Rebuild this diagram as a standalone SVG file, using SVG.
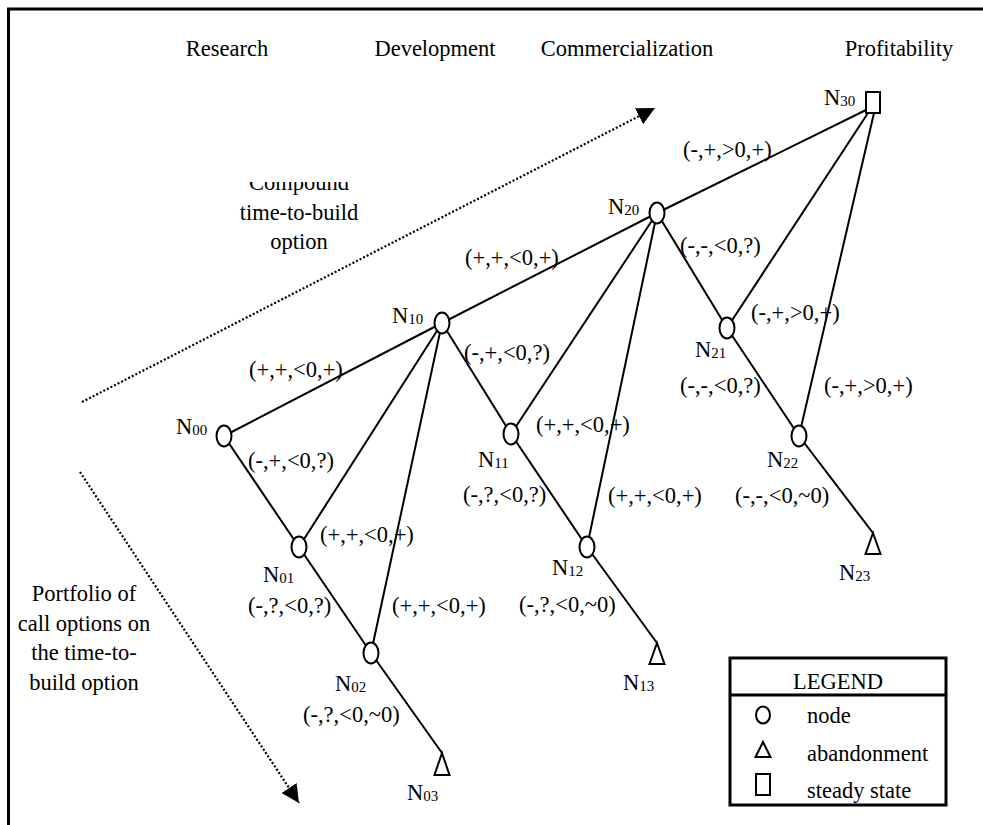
<svg xmlns="http://www.w3.org/2000/svg" width="983" height="825" viewBox="0 0 983 825">
<defs>
<style>
text{font-family:"Liberation Serif","Times New Roman",serif;font-size:22.5px;fill:#000}
.sub{font-size:15px}
.c{text-anchor:middle}
.edge{stroke:#000;stroke-width:2;fill:none}
.nd{stroke:#000;stroke-width:2;fill:#fff}
.dot{stroke:#000;stroke-width:2.2;fill:none;stroke-dasharray:2 2}
.frame{stroke:#000;stroke-width:3;fill:none}
</style>
<marker id="ah" viewBox="0 0 10 10" refX="10" refY="5" markerWidth="18" markerHeight="18" markerUnits="userSpaceOnUse" orient="auto">
<path d="M0,0 L10,5 L0,10 Z" fill="#000"/>
</marker>
<clipPath id="clipC"><rect x="200" y="182" width="200" height="80"/></clipPath>
</defs>
<rect width="983" height="825" fill="#fff"/>
<path class="frame" d="M8.5,825 V9 H983"/>

<g id="headers">
<text class="c" x="227" y="56">Research</text>
<text class="c" x="435" y="56">Development</text>
<text class="c" x="627" y="56">Commercialization</text>
<text class="c" x="899" y="56">Profitability</text>
</g>

<g id="side-labels">
<g clip-path="url(#clipC)">
<text class="c" x="299" y="190">Compound</text>
</g>
<text class="c" x="299" y="220">time-to-build</text>
<text class="c" x="299" y="249">option</text>
<text class="c" x="84" y="601">Portfolio of</text>
<text class="c" x="84" y="631">call options on</text>
<text class="c" x="84" y="660">the time-to-</text>
<text class="c" x="84" y="690">build option</text>
</g>

<g id="connectors">
<line class="dot" x1="82" y1="402" x2="655" y2="108" marker-end="url(#ah)"/>
<line class="dot" x1="80" y1="472" x2="299" y2="803" marker-end="url(#ah)"/>
<line class="edge" x1="224" y1="436" x2="442" y2="323"/>
<line class="edge" x1="442" y1="323" x2="657" y2="213"/>
<line class="edge" x1="657" y1="213" x2="866" y2="110"/>
<line class="edge" x1="224" y1="436" x2="299" y2="547"/>
<line class="edge" x1="299" y1="547" x2="371" y2="653"/>
<line class="edge" x1="371" y1="653" x2="442" y2="753"/>
<line class="edge" x1="442" y1="323" x2="511" y2="434"/>
<line class="edge" x1="511" y1="434" x2="587" y2="547"/>
<line class="edge" x1="587" y1="547" x2="657" y2="643"/>
<line class="edge" x1="657" y1="213" x2="727" y2="328"/>
<line class="edge" x1="727" y1="328" x2="799" y2="436"/>
<line class="edge" x1="799" y1="436" x2="873" y2="533"/>
<line class="edge" x1="299" y1="547" x2="442" y2="323"/>
<line class="edge" x1="371" y1="653" x2="442" y2="323"/>
<line class="edge" x1="511" y1="434" x2="657" y2="213"/>
<line class="edge" x1="587" y1="547" x2="657" y2="213"/>
<line class="edge" x1="727" y1="328" x2="868" y2="113"/>
<line class="edge" x1="799" y1="436" x2="874" y2="113"/>
</g>

<g id="edge-labels">
<text x="249" y="377">(+,+,&lt;0,+)</text>
<text x="248" y="468">(-,+,&lt;0,?)</text>
<text x="320" y="542">(+,+,&lt;0,+)</text>
<text x="248" y="613">(-,?,&lt;0,?)</text>
<text x="392" y="613">(+,+,&lt;0,+)</text>
<text x="303" y="722">(-,?,&lt;0,~0)</text>
<text x="465" y="265">(+,+,&lt;0,+)</text>
<text x="464" y="360">(-,+,&lt;0,?)</text>
<text x="536" y="432">(+,+,&lt;0,+)</text>
<text x="463" y="502">(-,?,&lt;0,?)</text>
<text x="608" y="503">(+,+,&lt;0,+)</text>
<text x="519" y="612">(-,?,&lt;0,~0)</text>
<text x="683" y="157">(-,+,&gt;0,+)</text>
<text x="680" y="253">(-,-,&lt;0,?)</text>
<text x="751" y="320">(-,+,&gt;0,+)</text>
<text x="680" y="393">(-,-,&lt;0,?)</text>
<text x="824" y="393">(-,+,&gt;0,+)</text>
<text x="735" y="503">(-,-,&lt;0,~0)</text>
</g>

<g id="N00"><ellipse class="nd" cx="224" cy="436" rx="7.5" ry="10.5"/><text x="176" y="434">N<tspan class="sub" dy="1">00</tspan></text></g>
<g id="N10"><ellipse class="nd" cx="442" cy="323" rx="7.5" ry="10.5"/><text x="392" y="323">N<tspan class="sub" dy="1">10</tspan></text></g>
<g id="N20"><ellipse class="nd" cx="657" cy="213" rx="7.5" ry="10.5"/><text x="608" y="214">N<tspan class="sub" dy="1">20</tspan></text></g>
<g id="N30"><rect class="nd" x="866" y="92" width="14" height="21"/><text x="824" y="105">N<tspan class="sub" dy="1">30</tspan></text></g>
<g id="N01"><ellipse class="nd" cx="299" cy="547" rx="7.5" ry="10.5"/><text x="263" y="582">N<tspan class="sub" dy="1">01</tspan></text></g>
<g id="N11"><ellipse class="nd" cx="511" cy="434" rx="7.5" ry="10.5"/><text x="478" y="467">N<tspan class="sub" dy="1">11</tspan></text></g>
<g id="N21"><ellipse class="nd" cx="727" cy="328" rx="7.5" ry="10.5"/><text x="695" y="357">N<tspan class="sub" dy="1">21</tspan></text></g>
<g id="N02"><ellipse class="nd" cx="371" cy="653" rx="7.5" ry="10.5"/><text x="335" y="691">N<tspan class="sub" dy="1">02</tspan></text></g>
<g id="N12"><ellipse class="nd" cx="587" cy="547" rx="7.5" ry="10.5"/><text x="552" y="575">N<tspan class="sub" dy="1">12</tspan></text></g>
<g id="N22"><ellipse class="nd" cx="799" cy="436" rx="7.5" ry="10.5"/><text x="767" y="467">N<tspan class="sub" dy="1">22</tspan></text></g>
<g id="N03"><polygon class="nd" points="442,753 449.5,775 434.5,775"/><text x="407" y="800">N<tspan class="sub" dy="1">03</tspan></text></g>
<g id="N13"><polygon class="nd" points="657,643 664.5,664 649.5,664"/><text x="623" y="690">N<tspan class="sub" dy="1">13</tspan></text></g>
<g id="N23"><polygon class="nd" points="873,533 880.5,554 865.5,554"/><text x="839" y="580">N<tspan class="sub" dy="1">23</tspan></text></g>

<g id="legend">
<rect x="730" y="658" width="216" height="147" fill="#fff" stroke="#000" stroke-width="3"/>
<line x1="730" y1="695" x2="946" y2="695" stroke="#000" stroke-width="3"/>
<text class="c" x="838" y="689">LEGEND</text>
<ellipse class="nd" cx="763" cy="715" rx="7" ry="8.5" stroke-width="1.5"/>
<polygon class="nd" points="763,742 770.5,757 755.5,757" stroke-width="1.5"/>
<rect class="nd" x="756" y="774" width="14" height="21" stroke-width="1.5"/>
<text x="807" y="723">node</text>
<text x="807" y="761">abandonment</text>
<text x="807" y="798">steady state</text>
</g>
</svg>
